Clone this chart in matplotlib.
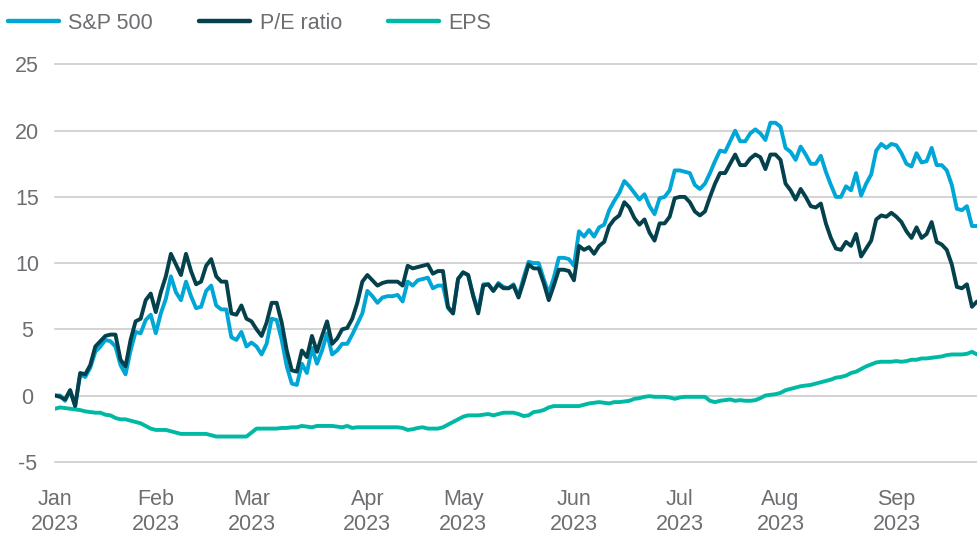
import matplotlib
matplotlib.use("Agg")
import matplotlib.pyplot as plt
import numpy as np
import pandas as pd
from matplotlib.lines import Line2D

# ---------------- data (percent change since start of 2023, per trading day) ----------------
sp500 = [
    0.0, 0.0, -0.4, 0.4, -0.8, 1.6, 1.4, 2.1, 3.3, 3.7,
    4.2, 4.1, 3.7, 2.3, 1.6, 3.4, 4.8, 4.7, 5.7, 6.1,
    4.7, 6.2, 7.3, 9.0, 7.8, 7.2, 8.6, 7.5, 6.6, 6.7,
    7.9, 8.3, 6.8, 6.5, 6.5, 4.4, 4.2, 4.8, 3.7, 4.0,
    3.7, 3.1, 3.9, 5.8, 5.7, 4.2, 2.2, 0.9, 0.8, 2.4,
    1.7, 3.6, 2.4, 3.4, 4.7, 3.1, 3.4, 3.9, 3.9, 4.6,
    5.4, 6.2, 7.9, 7.5, 7.0, 7.4, 7.5, 7.5, 7.6, 7.1,
    8.6, 8.3, 8.7, 8.8, 8.9, 8.1, 8.3, 8.3, 6.6, 6.2,
    8.8, 9.3, 9.1, 7.6, 6.4, 8.4, 8.4, 7.9, 8.5, 8.2,
    8.1, 8.4, 7.5, 8.9, 10.1, 10.0, 10.0, 8.8, 7.7, 8.9,
    10.4, 10.4, 10.3, 9.8, 12.4, 12.0, 12.5, 12.0, 12.7, 12.9,
    14.0, 14.7, 15.3, 16.2, 15.8, 15.3, 14.8, 15.2, 14.3, 13.7,
    14.9, 15.0, 15.5, 17.0, 17.0, 16.9, 16.8, 15.9, 15.6, 16.0,
    16.8, 17.7, 18.5, 18.4, 19.2, 20.0, 19.2, 19.2, 19.8, 20.1,
    19.8, 19.3, 20.6, 20.6, 20.3, 18.7, 18.4, 17.8, 18.8, 18.2,
    17.5, 17.5, 18.1, 16.9, 15.9, 15.0, 15.0, 15.8, 15.5, 16.8,
    15.1, 16.0, 16.7, 18.5, 19.0, 18.7, 19.0, 18.9, 18.3, 17.5,
    17.3, 18.3, 17.6, 17.7, 18.7, 17.4, 17.4, 17.0, 15.9, 14.1,
    14.0, 14.3, 12.8, 12.8,
]

pe_ratio = [
    0.0, -0.1, -0.3, 0.4, -0.8, 1.7, 1.6, 2.3, 3.7, 4.1,
    4.5, 4.6, 4.6, 2.7, 2.2, 4.2, 5.6, 5.8, 7.2, 7.7,
    6.3, 7.8, 9.0, 10.7, 9.9, 9.1, 10.7, 9.4, 8.4, 8.6,
    9.8, 10.3, 9.0, 8.6, 8.6, 6.2, 6.1, 6.8, 5.8, 5.6,
    5.0, 4.5, 5.5, 7.0, 7.0, 5.5, 3.4, 1.9, 1.8, 3.4,
    2.9, 4.5, 3.3, 4.5, 5.6, 3.9, 4.3, 5.0, 5.1, 5.8,
    7.0, 8.6, 9.1, 8.7, 8.3, 8.5, 8.6, 8.6, 8.6, 8.3,
    9.8, 9.6, 9.7, 9.8, 9.9, 9.2, 9.4, 9.4, 6.7, 6.2,
    8.8, 9.3, 9.1, 7.5, 6.2, 8.3, 8.4, 7.9, 8.4, 8.1,
    8.1, 8.3, 7.4, 8.6, 9.9, 9.6, 9.6, 8.5, 7.2, 8.3,
    9.5, 9.5, 9.4, 8.7, 11.3, 11.0, 11.2, 10.7, 11.3, 11.6,
    12.8, 13.3, 13.6, 14.6, 14.2, 13.4, 12.9, 13.3, 12.3, 11.7,
    13.0, 13.0, 13.5, 14.9, 15.0, 15.0, 14.6, 13.9, 13.6, 13.9,
    15.0, 16.0, 16.8, 16.8, 17.5, 18.2, 17.4, 17.4, 17.9, 18.2,
    18.0, 17.1, 18.2, 18.2, 17.8, 16.0, 15.5, 14.8, 15.6, 15.0,
    14.3, 14.2, 14.5, 13.0, 11.9, 11.1, 11.0, 11.6, 11.3, 12.2,
    10.5, 11.1, 11.7, 13.3, 13.6, 13.5, 13.8, 13.5, 13.1, 12.4,
    11.9, 12.7, 11.9, 12.2, 13.1, 11.6, 11.4, 11.0, 9.9, 8.2,
    8.1, 8.4, 6.7, 7.1,
]

eps = [
    -1.0, -0.9, -0.95, -1.0, -1.05, -1.1, -1.2, -1.25, -1.3, -1.3,
    -1.45, -1.5, -1.7, -1.8, -1.8, -1.9, -2.0, -2.1, -2.3, -2.5,
    -2.6, -2.6, -2.6, -2.7, -2.8, -2.9, -2.9, -2.9, -2.9, -2.9,
    -2.9, -3.0, -3.1, -3.1, -3.1, -3.1, -3.1, -3.1, -3.1, -2.8,
    -2.5, -2.5, -2.5, -2.5, -2.5, -2.45, -2.45, -2.4, -2.4, -2.3,
    -2.35, -2.4, -2.3, -2.3, -2.3, -2.3, -2.35, -2.4, -2.3, -2.45,
    -2.4, -2.4, -2.4, -2.4, -2.4, -2.4, -2.4, -2.4, -2.4, -2.45,
    -2.6, -2.55, -2.45, -2.4, -2.5, -2.5, -2.5, -2.4, -2.2, -2.0,
    -1.8, -1.6, -1.5, -1.5, -1.5, -1.45, -1.4, -1.5, -1.4, -1.3,
    -1.3, -1.3, -1.4, -1.55, -1.5, -1.25, -1.2, -1.1, -0.9, -0.8,
    -0.8, -0.8, -0.8, -0.8, -0.8, -0.7, -0.6, -0.55, -0.5, -0.55,
    -0.6, -0.5, -0.5, -0.45, -0.4, -0.25, -0.2, -0.1, -0.05, -0.1,
    -0.1, -0.1, -0.15, -0.25, -0.15, -0.1, -0.1, -0.1, -0.1, -0.1,
    -0.4, -0.5, -0.4, -0.35, -0.3, -0.4, -0.35, -0.4, -0.4, -0.35,
    -0.2, 0.0, 0.05, 0.1, 0.2, 0.4, 0.5, 0.6, 0.7, 0.75,
    0.8, 0.9, 1.0, 1.1, 1.2, 1.35, 1.4, 1.5, 1.7, 1.8,
    2.0, 2.2, 2.35, 2.5, 2.55, 2.55, 2.55, 2.6, 2.55, 2.6,
    2.7, 2.7, 2.8, 2.8, 2.85, 2.9, 2.95, 3.05, 3.1, 3.1,
    3.1, 3.15, 3.3, 3.1,
]

series_labels = ["S&P 500", "P/E ratio", "EPS"]
month_labels = ["Jan\n2023", "Feb\n2023", "Mar\n2023", "Apr\n2023", "May\n2023",
                "Jun\n2023", "Jul\n2023", "Aug\n2023", "Sep\n2023"]
y_ticks = [-5, 0, 5, 10, 15, 20, 25]
market_holidays = ["2023-01-16", "2023-02-20", "2023-04-07", "2023-05-29",
                   "2023-06-19", "2023-07-04", "2023-09-04"]

# ---------------- trading calendar ----------------
days = pd.bdate_range("2023-01-03", "2023-09-29")
days = days[~days.isin(pd.to_datetime(market_holidays))][: len(sp500)]
x = np.arange(len(days))
month_first = [i for i in range(len(days)) if i == 0 or days[i].month != days[i - 1].month]

# ---------------- style ----------------
plt.rcParams["font.family"] = ["Liberation Sans Narrow", "Liberation Sans", "DejaVu Sans"]
TXT = "#6D6E71"
C_SP = "#00A6D6"
C_PE = "#05414C"
C_EPS = "#00B9A5"

W, H = 977, 535
fig = plt.figure(figsize=(W / 100, H / 100), dpi=100)
left_px, right_px, top_px, bot_px = 55, 977, 64.5, 461.7
ax = fig.add_axes([left_px / W, 1 - bot_px / H, (right_px - left_px) / W, (bot_px - top_px) / H])

lw = 2.8
ax.plot(x, sp500, color=C_SP, lw=lw, solid_joinstyle="round", solid_capstyle="round", zorder=3)
ax.plot(x, pe_ratio, color=C_PE, lw=lw, solid_joinstyle="round", solid_capstyle="round", zorder=4)
ax.plot(x, eps, color=C_EPS, lw=lw, solid_joinstyle="round", solid_capstyle="round", zorder=3)

ax.set_xlim(0, len(days) - 1)
ax.set_ylim(-5, 25)
ax.set_yticks(y_ticks)
ax.set_yticklabels([str(v) for v in y_ticks])
ax.set_xticks(month_first)
ax.set_xticklabels(month_labels, linespacing=1.25)
ax.grid(axis="y", color="#C8C8C8", lw=1.1, zorder=0)
for gl in ax.get_ygridlines():
    gl.set_clip_on(False)
ax.set_axisbelow(True)
for s in ax.spines.values():
    s.set_visible(False)
ax.tick_params(axis="both", length=0, labelsize=15.5, labelcolor=TXT)
ax.tick_params(axis="y", pad=20)
ax.tick_params(axis="x", pad=20)
for t in ax.get_yticklabels():
    t.set_horizontalalignment("center")

handles = [Line2D([], [], color=c, lw=3.2, solid_capstyle="round") for c in (C_SP, C_PE, C_EPS)]
leg = fig.legend(handles, series_labels, loc="upper left", bbox_to_anchor=(8 / W, 1 - 13 / H),
                 ncol=3, frameon=False, fontsize=15.5, handlelength=2.35, handletextpad=0.45,
                 columnspacing=2.15, borderpad=0, borderaxespad=0)
for t in leg.get_texts():
    t.set_color(TXT)

fig.savefig("out.png", dpi=100)
